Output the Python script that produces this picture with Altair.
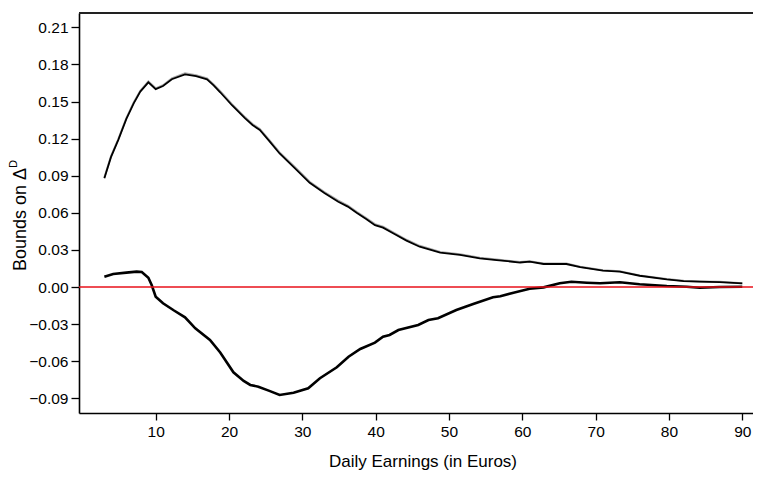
import altair as alt
import pandas as pd

# Upper bound (black) and its near-identical grey companion
upper_x = [3.0, 3.9, 4.9, 6.0, 7.0, 7.9, 9.0, 10.0, 11.0, 12.2, 14.0, 15.5, 17.0, 17.9,
           18.8, 20.4, 22.2, 23.2, 24.2, 25.5, 26.9, 29.0, 31.0, 33.0, 34.9, 36.2, 37.4,
           38.7, 39.9, 41.0, 42.5, 44.2, 46.0, 48.8, 51.5, 54.2, 56.5, 59.7, 61.0, 62.9,
           66.0, 67.9, 71.0, 73.3, 76.0, 79.7, 82.0, 84.2, 86.9, 90.0]
upper_y = [0.088, 0.105, 0.119, 0.136, 0.1485, 0.158, 0.1655, 0.160, 0.1625, 0.168,
           0.172, 0.1705, 0.168, 0.163, 0.1575, 0.147, 0.1364, 0.131, 0.127, 0.118,
           0.108, 0.096, 0.0843, 0.076, 0.069, 0.065, 0.060, 0.055, 0.050, 0.048,
           0.043, 0.0375, 0.0326, 0.0278, 0.0259, 0.0232, 0.0218, 0.0198, 0.0205,
           0.0186, 0.0186, 0.016, 0.0132, 0.0124, 0.0091, 0.0062, 0.0048, 0.0043,
           0.004, 0.003]
upper_grey_y = [0.0885, 0.1056, 0.1196, 0.1366, 0.1492, 0.1587, 0.1662, 0.1607, 0.1632,
                0.1688, 0.1728, 0.1713, 0.1688, 0.1638, 0.1583, 0.1478, 0.1372, 0.1318,
                0.1278, 0.1188, 0.1088, 0.0968, 0.0851, 0.0768, 0.0698, 0.0658, 0.0608,
                0.0558, 0.0508, 0.0487, 0.0437, 0.0382, 0.0333, 0.0284, 0.0265, 0.0237,
                0.0223, 0.0202, 0.0209, 0.0190, 0.0190, 0.0164, 0.0135, 0.0127, 0.0094,
                0.0064, 0.0050, 0.0045, 0.0042, 0.0031]

# Lower bound
lower_x = [3.0, 4.2, 6.0, 7.4, 8.1, 9.0, 9.45, 10.0, 11.0, 12.5, 14.0, 15.4, 17.4, 18.8,
           20.6, 22.0, 22.9, 24.0, 25.5, 26.9, 28.8, 30.8, 32.4, 34.7, 36.3, 37.9, 39.9,
           41.0, 41.9, 43.1, 45.8, 47.2, 48.5, 51.0, 53.3, 56.0, 57.0, 58.8, 61.0, 62.9,
           65.1, 66.7, 68.8, 70.6, 73.3, 76.0, 79.7, 82.4, 84.2, 86.9, 90.0]
lower_y = [0.0083, 0.0105, 0.0116, 0.0124, 0.0121, 0.0075, 0.0016, -0.0078, -0.0132,
           -0.019, -0.0245, -0.0334, -0.0429, -0.053, -0.069, -0.076, -0.0792, -0.0806,
           -0.084, -0.0873, -0.0855, -0.0819, -0.0738, -0.0649, -0.0564, -0.0501, -0.045,
           -0.0402, -0.0388, -0.0348, -0.0307, -0.0267, -0.0253, -0.0186, -0.0137,
           -0.0083, -0.0075, -0.0046, -0.0014, -0.0003, 0.003, 0.0043, 0.0035, 0.003,
           0.0038, 0.0022, 0.0008, 0.0002, -0.0006, 0.0, 0.0002]

x_ticks = [10, 20, 30, 40, 50, 60, 70, 80, 90]
y_ticks = [-0.09, -0.06, -0.03, 0.00, 0.03, 0.06, 0.09, 0.12, 0.15, 0.18, 0.21]

W, H = 674, 400
FONT = "Liberation Sans"

df_up = pd.DataFrame({"x": upper_x, "y": upper_y})
df_upg = pd.DataFrame({"x": upper_x, "y": upper_grey_y})
df_lo = pd.DataFrame({"x": lower_x, "y": lower_y})

xs = alt.Scale(domain=[-0.46, 91.46], nice=False, zero=False)
ys = alt.Scale(domain=[-0.1019, 0.2216], nice=False, zero=False)

xax = alt.Axis(values=x_ticks, title="Daily Earnings (in Euros)", grid=False,
               tickSize=7, labelPadding=4, labelOverlap=False,
               titleX=343.5, titleY=53, titleBaseline="alphabetic", titleAlign="center",
               titleFontSize=17)
yax = alt.Axis(values=y_ticks, format=".2f", title="Bounds on Δ", grid=False,
               tickSize=8, labelPadding=3, labelOverlap=False, titleAngle=270,
               titleX=-54, titleY=206, titleBaseline="alphabetic", titleAlign="center",
               titleFontSize=18)

X = alt.X("x:Q", scale=xs, axis=xax)
Y = alt.Y("y:Q", scale=ys, axis=yax)

grey = alt.Chart(df_upg).mark_line(color="#a8a8a8", strokeWidth=2).encode(x=X, y=Y)
up = alt.Chart(df_up).mark_line(color="black", strokeWidth=1.8).encode(x=X, y=Y)
lo = alt.Chart(df_lo).mark_line(color="black", strokeWidth=2.6).encode(x=X, y=Y)
zero = alt.Chart(pd.DataFrame({"y": [0.0]})).mark_rule(
    color="#e8101a", strokeWidth=1.3).encode(y=Y)
top = alt.Chart(pd.DataFrame({"a": [0]})).mark_rule(color="#222222", strokeWidth=2).encode(
    x=alt.value(0), x2=alt.value(W), y=alt.value(0))
sup = alt.Chart(pd.DataFrame({"t": ["D"]})).mark_text(
    angle=270, align="left", baseline="alphabetic", font=FONT, fontSize=11,
    color="black").encode(text="t:N", x=alt.value(-62), y=alt.value(155))

chart = alt.layer(grey, up, lo, zero, top, sup).properties(
    width=W, height=H,
    autosize=alt.AutoSizeParams(type="none"),
    padding={"left": 71, "top": 5, "right": 0, "bottom": 58},
).configure_view(stroke=None).configure(background="white").configure_axis(
    domainColor="black", domainWidth=1.6, tickColor="black", tickWidth=1.3,
    labelFont=FONT, labelFontSize=15.5, labelColor="black", labelOverlap=False,
    titleFont=FONT, titleFontWeight="normal", titleColor="black", grid=False)

chart.save("out.html", embed_options={"renderer": "svg", "actions": False})
